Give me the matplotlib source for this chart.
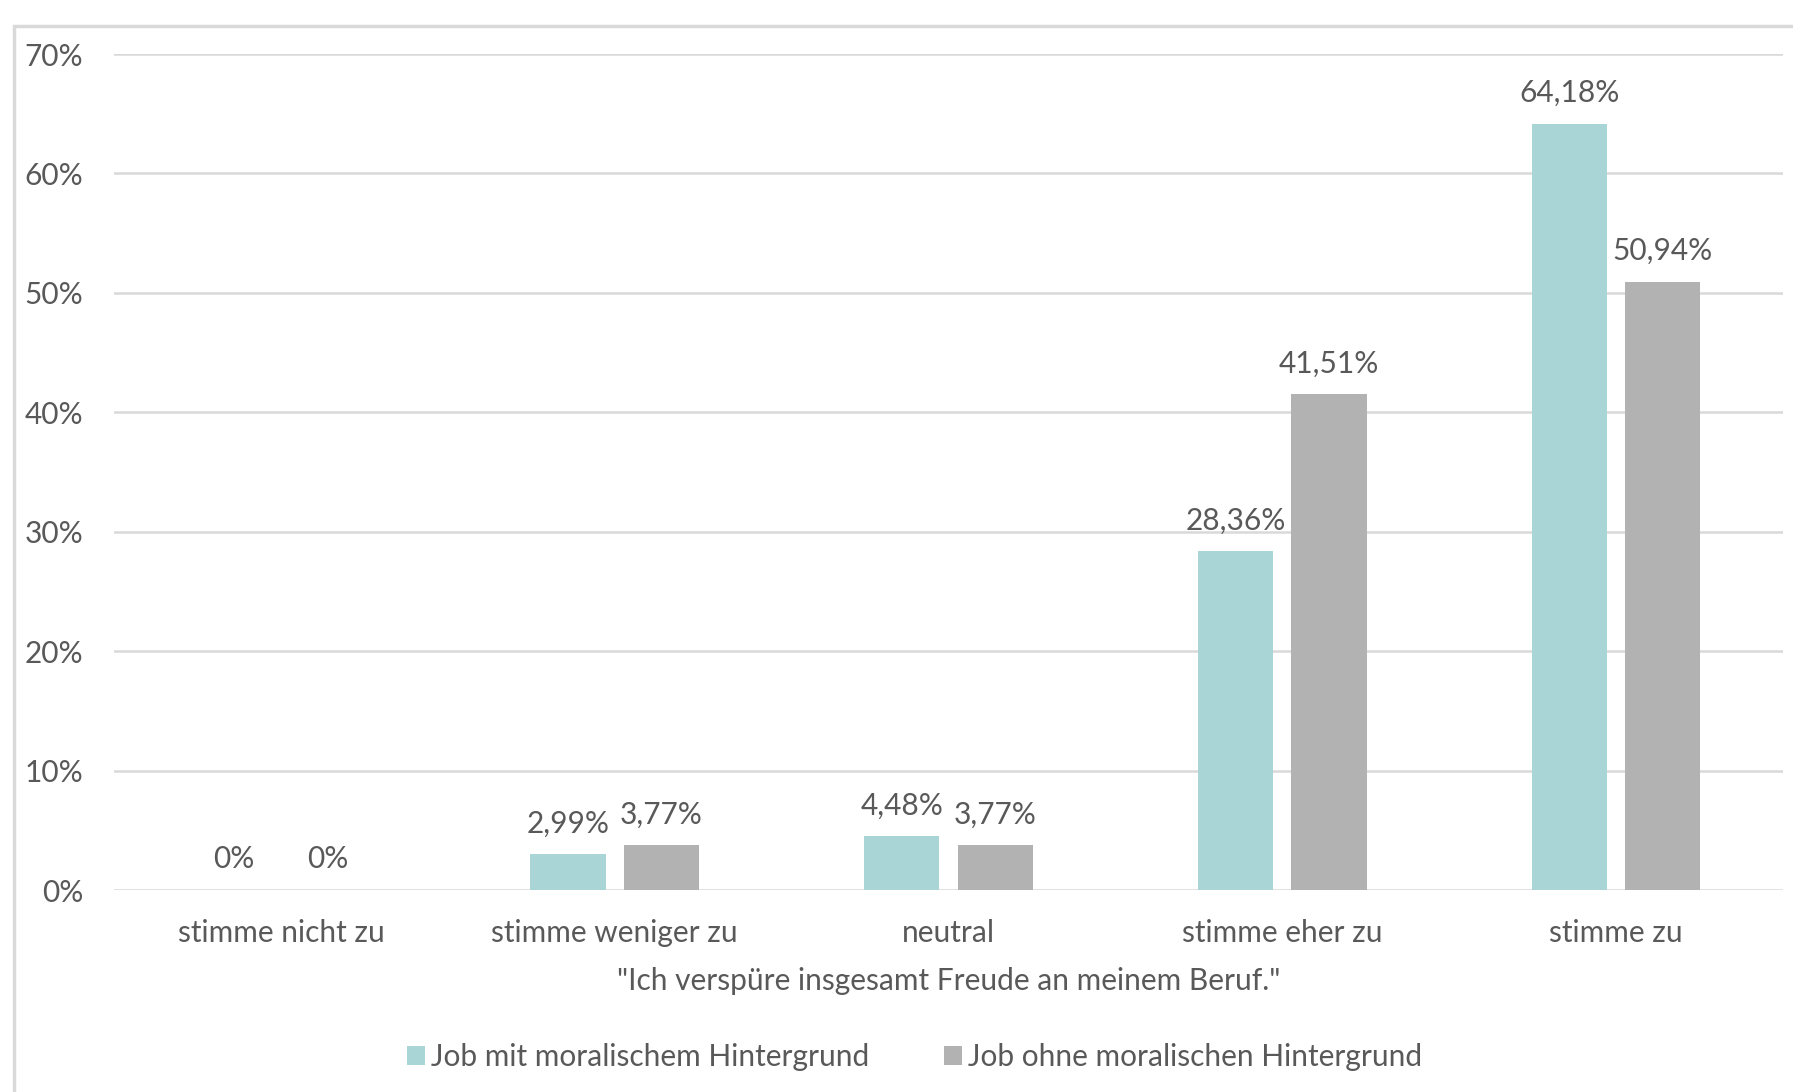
import numpy as np
import matplotlib
matplotlib.use("Agg")
import matplotlib.pyplot as plt
from matplotlib.patches import Rectangle

# Daten
kategorien = ["stimme nicht zu", "stimme weniger zu", "neutral", "stimme eher zu", "stimme zu"]
mit_moral = [0.0, 2.99, 4.48, 28.36, 64.18]
ohne_moral = [0.0, 3.77, 3.77, 41.51, 50.94]
serien = ["Job mit moralischem Hintergrund", "Job ohne moralischen Hintergrund"]
y_ticks = [0, 10, 20, 30, 40, 50, 60, 70]

farbe_mit = "#A9D5D6"
farbe_ohne = "#B2B2B2"
textfarbe = "#595959"
fs = 21.5

plt.rcParams["font.family"] = ["Lato", "DejaVu Sans"]

W, H = 1793, 1092
fig = plt.figure(figsize=(W / 100, H / 100), dpi=100)

# Rahmen um das Diagramm (rechts/unten abgeschnitten)
fig.patches.append(Rectangle((14 / W, -0.1), 1.2, 1 - 26 / H + 0.1,
                             transform=fig.transFigure, fill=False,
                             edgecolor="#D9D9D9", linewidth=2.5))

ax = fig.add_axes([114 / W, 1 - 890 / H, (1783 - 114) / W, (890 - 54) / H])

x = np.arange(len(kategorien))
bw = 0.225
gap = 0.055
off = (bw + gap) / 2

b1 = ax.bar(x - off, mit_moral, bw, color=farbe_mit, label=serien[0], zorder=3)
b2 = ax.bar(x + off, ohne_moral, bw, color=farbe_ohne, label=serien[1], zorder=3)

def fmt(v):
    if v == 0:
        return "0%"
    return f"{v:.2f}%".replace(".", ",")

for bars, vals in ((b1, mit_moral), (b2, ohne_moral)):
    for rect, v in zip(bars, vals):
        ax.annotate(fmt(v), (rect.get_x() + rect.get_width() / 2, v),
                    xytext=(0, 12), textcoords="offset points",
                    ha="center", va="bottom", fontsize=fs, color=textfarbe)

ax.set_xlim(-0.5, len(kategorien) - 0.5)
ax.set_ylim(0, 70)
ax.set_yticks(y_ticks)
ax.set_yticklabels([f"{t}%" for t in y_ticks])
ax.set_xticks(x)
ax.set_xticklabels(kategorien)
ax.tick_params(axis="both", length=0, labelsize=fs, colors=textfarbe)
ax.tick_params(axis="y", pad=22)
ax.tick_params(axis="x", pad=21)
ax.grid(axis="y", color="#D9D9D9", linewidth=1.8, zorder=0)
for s in ax.spines.values():
    s.set_visible(False)

ax.set_xlabel('"Ich verspüre insgesamt Freude an meinem Beruf."',
              fontsize=fs, color=textfarbe, labelpad=14)

leg = fig.legend(handles=[b1, b2], labels=serien, loc="center",
                 bbox_to_anchor=(0.51, 1 - 1057 / H), ncol=2, frameon=False,
                 fontsize=fs, handlelength=0.6, handleheight=0.6,
                 handletextpad=0.2, columnspacing=2.5)
for t in leg.get_texts():
    t.set_color(textfarbe)

fig.savefig("out.png", dpi=100, facecolor="white")
